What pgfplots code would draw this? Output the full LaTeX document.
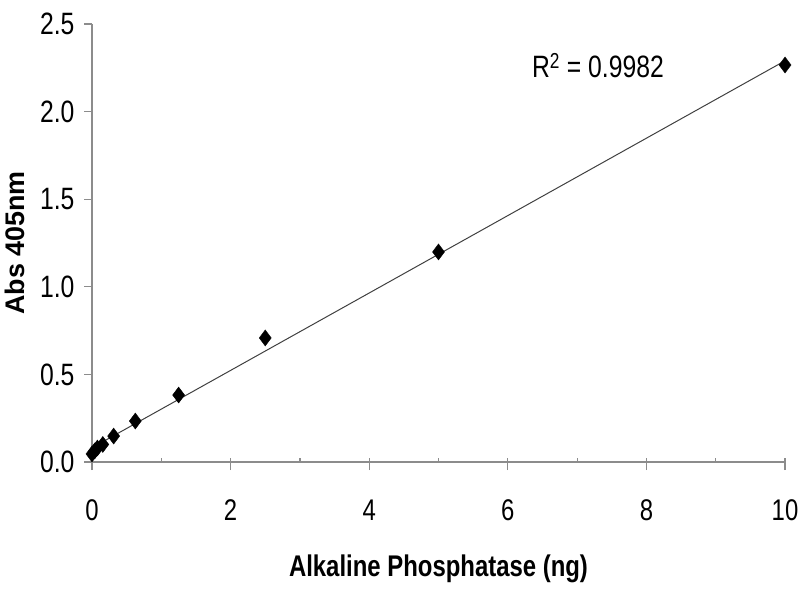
\documentclass[border=0pt]{standalone}
\usepackage{pgfplots}
\pgfplotsset{compat=1.18}
\usepackage{fontspec}
\setmainfont{Liberation Sans}
\newfontfamily\narrowfont{Liberation Sans}[FakeStretch=0.8]
\definecolor{axisgray}{HTML}{8C8C8C}
\definecolor{linegray}{HTML}{404040}
\begin{document}
\begin{tikzpicture}
\begin{axis}[
  at={(0,0)}, anchor=south west,
  scale only axis, width=693bp, height=438bp,
  xmin=0, xmax=10, ymin=0, ymax=2.5,
  axis lines=left,
  axis line style={-, axisgray, line width=1.2bp},
  xtick={0,2,4,6,8,10},
  ytick={0,0.5,1,1.5,2,2.5},
  tick align=outside,
  major tick length=8bp,
  tick style={axisgray, line width=1.2bp},
  extra x ticks={1,2,3,4,5,6,7,8,9,10},
  extra x tick labels={},
  extra x tick style={tick align=inside, major tick length=4bp},
  /pgf/number format/assume math mode=true,
  yticklabel={\pgfmathprintnumber[fixed,fixed zerofill,precision=1]{\tick}},
  xticklabel style={font=\fontsize{30}{30}\narrowfont, yshift=-26bp},
  yticklabel style={font=\fontsize{31}{31}\narrowfont, xshift=-6bp},
  xlabel={\fontsize{30}{30}\narrowfont\bfseries Alkaline Phosphatase (ng)},
  ylabel={\fontsize{27}{27}\selectfont\bfseries Abs 405nm},
  xlabel style={yshift=-19bp},
  ylabel style={yshift=9bp},
  clip=false,
]
\addplot[linegray, line width=1bp] coordinates {(0,0.081) (10,2.290)};
\addplot[only marks, mark=diamond*, mark size=8bp, black] coordinates {
  (0,0.046) (0.039,0.063) (0.078,0.080) (0.156,0.100) (0.3125,0.148)
  (0.625,0.234) (1.25,0.382) (2.5,0.708) (5,1.199) (10,2.266)
};
\node[anchor=west, font=\fontsize{31}{31}\narrowfont] at (axis cs:6.3,2.26) {R\textsuperscript{2} = 0.9982};
\end{axis}
\pgfresetboundingbox
\useasboundingbox (-92bp,-138bp) rectangle (708bp,462bp);
\end{tikzpicture}
\end{document}
